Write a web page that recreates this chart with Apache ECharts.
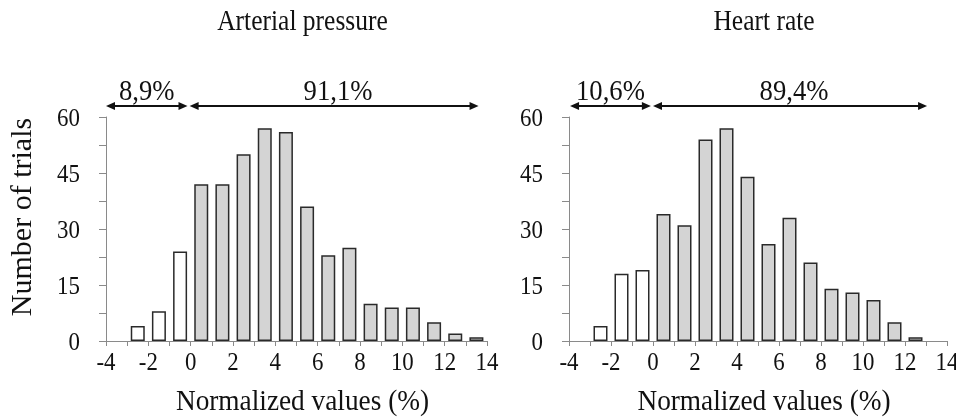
<!DOCTYPE html>
<html><head><meta charset="utf-8">
<script src="https://cdn.jsdelivr.net/npm/echarts@6/dist/echarts.min.js"></script>
<style>html,body{margin:0;padding:0;background:#fff}#c{width:956px;height:417px}</style>
</head><body><div id="c"></div>
<script>
// ---- data ----
const binCenters = [-2.5,-1.5,-0.5,0.5,1.5,2.5,3.5,4.5,5.5,6.5,7.5,8.5,9.5,10.5,11.5,12.5,13.5];
const apCounts = [4,8,24,42,42,50,57,56,36,23,25,10,9,9,5,2,1];
const hrCounts = [4,18,19,34,31,54,57,44,26,33,21,14,13,11,5,1];
const xTickLabels = [-4,-2,0,2,4,6,8,10,12,14];
const yTickLabels = [0,15,30,45,60];
const titles = ['Arterial pressure','Heart rate'];
const apArrows = [[-4,-0.15],[-0.05,13.6]];
const hrArrows = [[-3.95,-0.1],[0,13.05]];
const apPercents = ['8,9%','91,1%'];
const hrPercents = ['10,6%','89,4%'];
const xName = 'Normalized values (%)';
const yName = 'Number of trials';

const FONT = '"Liberation Serif","Times New Roman",serif';
const chart = echarts.init(document.getElementById('c'));
const panels = [
  {counts: apCounts, arrows: apArrows, pcts: apPercents, title: titles[0]},
  {counts: hrCounts, arrows: hrArrows, pcts: hrPercents, title: titles[1]}
];
const grids = [
  {left: 106, top: 117, width: 381, height: 224},
  {left: 569, top: 117, width: 378, height: 224}
];
const axisColor = '#8a8a8a';
const xAxes = grids.map((g,i)=>({
  type:'value', gridIndex:i, min:-4, max:14, interval:1,
  axisLine:{show:true,onZero:false,lineStyle:{color:axisColor,width:1}},
  axisTick:{show:true,length:5,lineStyle:{color:axisColor}},
  axisLabel:{show:false}, splitLine:{show:false}
}));
const yAxes = grids.map((g,i)=>({
  type:'value', gridIndex:i, min:0, max:60, interval:7.5,
  axisLine:{show:true,onZero:false,lineStyle:{color:axisColor,width:1}},
  axisTick:{show:true,length:7,lineStyle:{color:axisColor}},
  axisLabel:{show:false}, splitLine:{show:false}
}));
const series = panels.map((p,i)=>({
  type:'bar', xAxisIndex:i, yAxisIndex:i, barWidth:14, animation:false,
  data: p.counts.map((c,k)=>({
    value:[binCenters[k], c],
    itemStyle:{color: binCenters[k] < 0 ? '#ffffff' : '#d4d4d4', borderColor:'#2a2a2a', borderWidth:1.5}
  }))
}));
chart.setOption({animation:false, grid: grids, xAxis: xAxes, yAxis: yAxes, series});

function txt(x,y,text,size,sx,align,rot){
  return {type:'text', x:x, y:y, scaleX:sx||1, rotation:rot||0, silent:true,
    style:{text:String(text), fontSize:size, fontFamily:FONT, fill:'#111',
      align:align||'center', verticalAlign:'middle', textAlign:align||'center', textVerticalAlign:'middle'}};
}
const g = [];
panels.forEach((p,i)=>{
  const px = v => chart.convertToPixel({xAxisIndex:i, yAxisIndex:i}, v);
  const origin = px([-4,0]);
  const top = px([-4,60]);
  const right = px([14,0]);
  const cx = (origin[0]+right[0])/2 + 6;
  g.push(txt(cx, 22, p.title, 30, 0.85));
  g.push(txt(cx, 402, xName, 30, 0.91));
  xTickLabels.forEach(v=>{ const q = px([v,0]); g.push(txt(q[0], q[1]+22, v, 26, 0.88)); });
  yTickLabels.forEach(v=>{ const q = px([-4,v]); g.push(txt(q[0]-26, q[1]+2, v, 26, 0.88, 'right')); });
  const ay = top[1] - 11;
  p.arrows.forEach((a,k)=>{
    const x0 = px([a[0],0])[0], x1 = px([a[1],0])[0];
    const hl = 9, hw = 4;
    g.push({type:'polyline', silent:true, shape:{points:[[x0+hl-1,ay],[x1-hl+1,ay]]}, style:{stroke:'#111', lineWidth:2, fill:null}});
    g.push({type:'polygon', silent:true, shape:{points:[[x0,ay],[x0+hl,ay-hw],[x0+hl,ay+hw]]}, style:{fill:'#111'}});
    g.push({type:'polygon', silent:true, shape:{points:[[x1,ay],[x1-hl,ay-hw],[x1-hl,ay+hw]]}, style:{fill:'#111'}});
    g.push(txt((x0+x1)/2 + (k===1?4:0), ay-14, p.pcts[k], 29, 0.92));
  });
  if(i===0){ g.push(txt(23, 217, yName, 30, 1, 'center', Math.PI/2)); }
});
chart.setOption({graphic: g});
</script>
</body></html>
